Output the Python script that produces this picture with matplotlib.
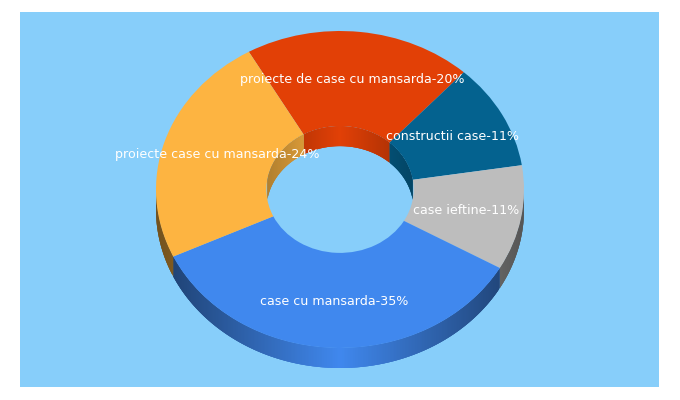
import numpy as np
import matplotlib
matplotlib.use("Agg")
import matplotlib.pyplot as plt
from matplotlib.patches import Circle, Rectangle

# slices clockwise, starting from the red one
names = ["proiecte de case cu mansarda", "constructii case", "case ieftine",
         "case cu mansarda", "proiecte case cu mansarda"]
shown_pct = [20, 11, 11, 35, 24]
values = [20.0, 10.8, 10.7, 34.8, 23.7]
colors = ["#e24006", "#04628f", "#bdbdbd", "#4088ee", "#fdb441"]

# label centres in pixels
label_x = [352.5, 452, 466, 334.5, 217]
label_y = [79, 136, 210, 301.5, 155]

BG = "#87cefa"
W, H = 680, 400
CX, CY = 340, 189.5   # pie centre, pixels
RX, RY = 184, 158.5   # outer radii, pixels
HOLE = 0.4
DEPTH = 20 / RY
START = -29.7         # degrees clockwise from top


def darker(color, f):
    r, g, b = matplotlib.colors.to_rgb(color)
    return (r * f, g * f, b * f)


fig = plt.figure(figsize=(W / 100, H / 100), dpi=100, facecolor="white")
fig.add_artist(Rectangle((20 / W, 1 - 387 / H), 639 / W, 375 / H,
                         transform=fig.transFigure, color=BG, lw=0, zorder=-1))
ax = fig.add_axes([0, 0, 1, 1])
ax.patch.set_alpha(0)

ax.pie(values, colors=colors, startangle=90 - START, counterclock=False,
       radius=1, wedgeprops=dict(width=1 - HOLE, linewidth=0, zorder=2))
ax.set_aspect("auto")
ax.set_xlim(-CX / RX, (W - CX) / RX)
ax.set_ylim((CY - H) / RY, CY / RY)
ax.axis("off")

hole_clip = Circle((0, 0), HOLE, transform=ax.transData)
ends = START + np.cumsum(values) * 3.6
starts = ends - np.array(values) * 3.6
step = 0.5

for a0, a1, c in zip(starts, ends, colors):
    for t in np.arange(a0, a1, step):
        t1 = np.radians(t)
        t2 = np.radians(min(t + 3 * step, a1))  # overlap the next strips, hides seams
        mid = np.radians(t + step / 2)
        # outer wall, lower half only
        if np.cos(mid) < 0:
            arc = np.linspace(t1, t2, 4)
            xs = np.r_[np.sin(arc), np.sin(arc[::-1])]
            ys = np.r_[np.cos(arc), np.cos(arc[::-1]) - DEPTH]
            col = darker(c, 1 - 0.55 * abs(np.sin(mid)))
            ax.fill(xs, ys, color=col, lw=0, zorder=1)
        # inner wall, seen through the hole
        if HOLE * np.cos(mid) > DEPTH / 2:
            arc = np.linspace(t1, t2, 4)
            xs = HOLE * np.r_[np.sin(arc), np.sin(arc[::-1])]
            ys = np.r_[HOLE * np.cos(arc), HOLE * np.cos(arc[::-1]) - DEPTH]
            col = darker(c, 1 - 0.3 * abs(np.sin(mid)))
            poly = ax.fill(xs, ys, color=col, lw=0, zorder=3)[0]
            poly.set_clip_path(hole_clip)

for name, pct, x, y in zip(names, shown_pct, label_x, label_y):
    fig.text(x / W, 1 - y / H, f"{name}-{pct}%", color="white", fontsize=9.1,
             family="DejaVu Sans", ha="center", va="center", zorder=5)

fig.savefig("out.png", dpi=100)
